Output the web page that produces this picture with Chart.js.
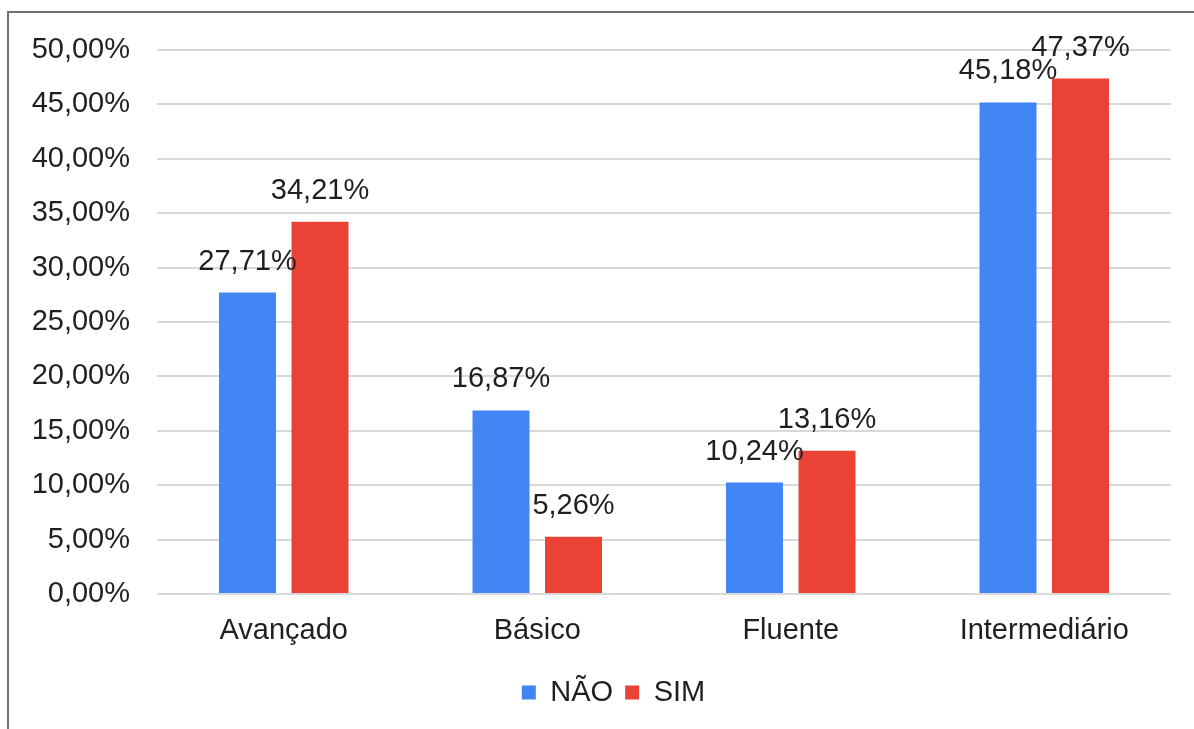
<!DOCTYPE html>
<html lang="pt-BR">
<head>
<meta charset="utf-8">
<title>Nível de idioma</title>
<script src="https://cdn.jsdelivr.net/npm/chart.js@4.4.1/dist/chart.umd.min.js"></script>
<style>
  html, body { margin: 0; padding: 0; background: #fff; overflow: hidden; }
  /* moldura cinza só em cima e à esquerda */
  #moldura { position: absolute; left: 7px; top: 11px; width: 1200px; height: 730px;
             border-left: 2px solid #707070; border-top: 2px solid #707070; }
  #grafico { position: absolute; left: 0; top: 0; }
</style>
</head>
<body>
<div id="moldura"></div>
<canvas id="grafico" width="1194" height="729"></canvas>
<script>
// dados
const categorias = ['Avançado', 'Básico', 'Fluente', 'Intermediário'];
const valoresNao = [27.71, 16.87, 10.24, 45.18];
const valoresSim = [34.21, 5.26, 13.16, 47.37];
const ticksEixoY = [0, 5, 10, 15, 20, 25, 30, 35, 40, 45, 50];

const FONTE = '"Liberation Sans", Arial, sans-serif';

function formatarPct(v) {
    return v.toFixed(2).replace('.', ',') + '%';
}

// escreve o valor acima de cada barra
const rotulosValores = {
    id: 'rotulosValores',
    afterDatasetsDraw(chart) {
        const ctx = chart.ctx;
        ctx.save();
        ctx.font = '29px ' + FONTE;
        ctx.fillStyle = '#1f1f1f';
        ctx.textAlign = 'center';
        ctx.textBaseline = 'middle';
        chart.data.datasets.forEach((ds, i) => {
            chart.getDatasetMeta(i).data.forEach((barra, j) => {
                ctx.fillText(formatarPct(ds.data[j]), barra.x, barra.y - 31);
            });
        });
        ctx.restore();
    }
};

// empurra a legenda um pouco para a direita
const deslocaLegenda = {
    id: 'deslocaLegenda',
    afterLayout(chart) {
        if (chart.legend) {
            chart.legend.left += 28;
            chart.legend.right += 28;
        }
    }
};

new Chart(document.getElementById('grafico'), {
    type: 'bar',
    data: {
        labels: categorias,
        datasets: [
            { label: 'NÃO', data: valoresNao, backgroundColor: '#4285f4' },
            { label: 'SIM', data: valoresSim, backgroundColor: '#ea4335' }
        ]
    },
    options: {
        responsive: false,
        animation: false,
        devicePixelRatio: 1,
        categoryPercentage: 0.572,
        barPercentage: 0.786,
        layout: { padding: { top: 50, right: 23, bottom: 12, left: 0 } },
        plugins: {
            tooltip: { enabled: false },
            legend: {
                position: 'bottom',
                labels: {
                    font: { family: FONTE, size: 29 },
                    color: '#1f1f1f',
                    boxWidth: 14,
                    boxHeight: 14,
                    padding: 12
                }
            }
        },
        scales: {
            x: {
                grid: { display: false },
                border: { display: false },
                ticks: { font: { family: FONTE, size: 29 }, color: '#1f1f1f', padding: 12 },
                afterFit: s => { s.height = 72; }
            },
            y: {
                min: 0,
                max: 50,
                afterBuildTicks: s => { s.ticks = ticksEixoY.map(v => ({ value: v })); },
                grid: { color: '#d9d9d9', lineWidth: 2, drawTicks: false },
                border: { display: false },
                ticks: {
                    font: { family: FONTE, size: 29 },
                    color: '#1f1f1f',
                    padding: 27,
                    callback: v => formatarPct(v)
                },
                afterFit: s => { s.width = 157; }
            }
        }
    },
    plugins: [rotulosValores, deslocaLegenda]
});
</script>
</body>
</html>
